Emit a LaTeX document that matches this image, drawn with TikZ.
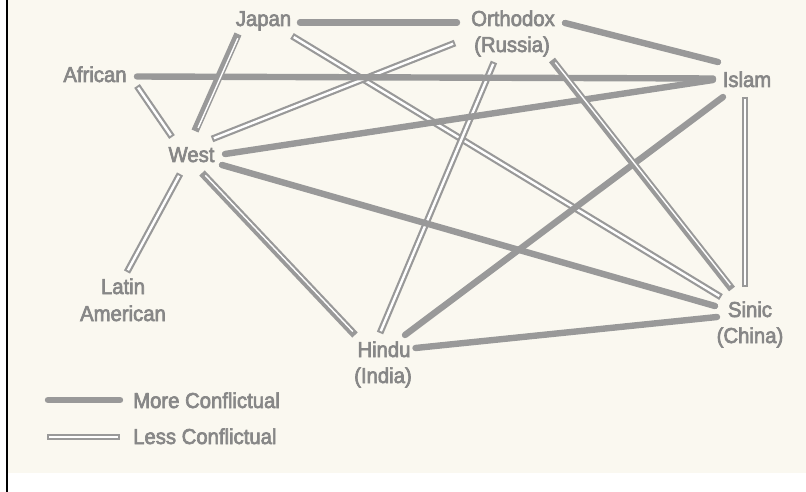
\documentclass[tikz,border=0pt]{standalone}
\usepackage{fontspec}
\setmainfont{Liberation Sans}[FakeStretch=0.94, FakeBold=3]
\definecolor{paper}{RGB}{250,248,240}
\definecolor{linegray}{RGB}{153,153,153}
\definecolor{textgray}{RGB}{135,135,135}
\tikzset{
  lbl/.style={text=textgray, font=\fontsize{21.6}{25}\selectfont, inner sep=0pt, anchor=base},
  more/.style={draw=linegray, line width=6.4pt, line cap=round},
  less/.style={draw=linegray, line width=6.8pt, line cap=butt,
    postaction={draw=white, line width=2.4pt, shorten >=2pt, shorten <=2pt}},
  offl/.style={draw=linegray, line width=7.5pt, line cap=butt},
  stripe/.style={draw=white, line width=1.4pt, shorten >=4pt, shorten <=4pt}
}
\begin{document}
\begin{tikzpicture}[x=1pt,y=-1pt]
\useasboundingbox (0,0) rectangle (806,492);
\fill[white] (0,0) rectangle (806,492);
\fill[paper] (7,0) rectangle (806,473);
\draw[black, line width=1.4pt] (7,0) -- (7,492);

% labels
\node[lbl] (japan) at (263.5,26) {Japan};
\node[lbl] (ortho) at (513,26) {Orthodox};
\node[lbl] (russia) at (512,52) {(Russia)};
\node[lbl] (islam) at (747,87) {Islam};
\node[lbl] (african) at (95,82) {African};
\node[lbl] (west) at (191.5,162) {West};
\node[lbl] (latin) at (123,294) {Latin};
\node[lbl] (american) at (123,321) {American};
\node[lbl] (hindu) at (384,357) {Hindu};
\node[lbl] (india) at (383,383) {(India)};
\node[lbl] (sinic) at (750,317) {Sinic};
\node[lbl] (china) at (750,343) {(China)};
\node[lbl, anchor=base west] (moretxt) at (133,408) {More Conflictual};
\node[lbl, anchor=base west] (lesstxt) at (133,444) {Less Conflictual};

% legend
\draw[more] ([shift={(-85,-8)}]moretxt.base west) -- ([shift={(-13,-8)}]moretxt.base west);
\draw[less] ([shift={(-86,-7)}]lesstxt.base west) -- ([shift={(-13,-7)}]lesstxt.base west);

% less conflictual
\draw[less] ([shift={(28.5,10)}]japan.base) -- ([shift={(-29,-20)}]sinic.base);
\draw[less] ([shift={(42,4)}]african.base) -- ([shift={(-19.5,-25)}]west.base);
\draw[less] ([shift={(20.5,-23)}]west.base) -- ([shift={(-57,-9)}]russia.base);
\draw[less] ([shift={(-11.5,12)}]west.base) -- ([shift={(4,-22)}]latin.base);
\draw[less] ([shift={(-18,10)}]russia.base) -- ([shift={(-4,-24)}]hindu.base);
\draw[less] ([shift={(-2,10)}]islam.base) -- ([shift={(-5,-30)}]sinic.base);

% more conflictual
\draw[more] ([shift={(36.5,-3.5)}]japan.base) -- ([shift={(-56,-3.5)}]ortho.base);
\draw[more] ([shift={(42,-5.5)}]african.base) -- ([shift={(-34,-8.5)}]islam.base);
\draw[more] ([shift={(33.5,-8)}]west.base) -- ([shift={(-34,-7)}]islam.base);
\draw[more] ([shift={(30.5,3)}]west.base) -- ([shift={(-35,-11)}]sinic.base);
\draw[more] ([shift={(52,-3)}]ortho.base) -- ([shift={(-29,-25)}]islam.base);
\draw[more] ([shift={(-24,10)}]islam.base) -- ([shift={(21,-22)}]hindu.base);
\draw[more] ([shift={(31.5,-9)}]hindu.base) -- ([shift={(-33,0)}]sinic.base);

% off-register lines
\draw[offl] ([shift={(-25.5,8)}]japan.base) -- ([shift={(3.5,-31)}]west.base);
\draw[stripe, transform canvas={xshift=1.4pt, yshift=-0.6pt}] ([shift={(-25.5,8)}]japan.base) -- ([shift={(3.5,-31)}]west.base);
\draw[offl] ([shift={(10.5,11)}]west.base) -- ([shift={(-29,-22)}]hindu.base);
\draw[stripe, transform canvas={xshift=0.6pt, yshift=0.55pt}] ([shift={(10.5,11)}]west.base) -- ([shift={(-29,-22)}]hindu.base);
\draw[offl] ([shift={(40,8)}]russia.base) -- ([shift={(-18,-28)}]sinic.base);
\draw[stripe, transform canvas={xshift=0.8pt, yshift=0.6pt}] ([shift={(40,8)}]russia.base) -- ([shift={(-18,-28)}]sinic.base);
\end{tikzpicture}
\end{document}
